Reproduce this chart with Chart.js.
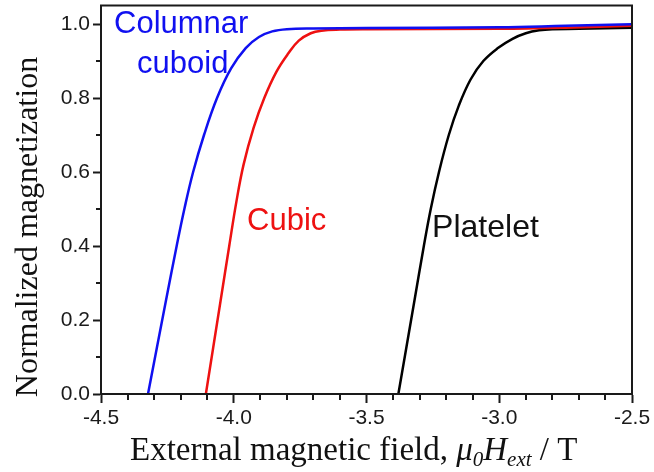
<!DOCTYPE html>
<html>
<head>
<meta charset="utf-8">
<script src="https://cdn.jsdelivr.net/npm/chart.js@4"></script>
<style>
  body { margin: 0; background: #fff; }
  #wrap { width: 654px; height: 472px; }
</style>
</head>
<body>
<div id="wrap"><canvas id="mag"></canvas></div>
<script>
// magnetization curves, field in tesla
const cuboidField = [-4.323, -4.256, -4.215, -4.186, -4.153, -4.112, -4.063, -4.010, -3.955, -3.905, -3.855, -3.800, -3.700, -3.500, -3.000, -2.750, -2.500];
const cuboidMag   = [0, 0.250, 0.400, 0.500, 0.600, 0.700, 0.800, 0.880, 0.935, 0.965, 0.980, 0.986, 0.988, 0.989, 0.991, 0.995, 0.999];

const cubicField = [-4.105, -4.050, -4.017, -3.990, -3.963, -3.925, -3.885, -3.840, -3.795, -3.755, -3.710, -3.670, -3.600, -3.500, -3.000, -2.750, -2.500];
const cubicMag   = [0, 0.250, 0.400, 0.520, 0.620, 0.720, 0.800, 0.870, 0.920, 0.955, 0.975, 0.982, 0.985, 0.986, 0.987, 0.990, 0.995];

const plateletField = [-3.380, -3.320, -3.284, -3.258, -3.227, -3.190, -3.152, -3.108, -3.060, -3.005, -2.950, -2.900, -2.850, -2.800, -2.700, -2.500];
const plateletMag   = [0, 0.250, 0.400, 0.500, 0.600, 0.700, 0.780, 0.850, 0.900, 0.935, 0.960, 0.975, 0.983, 0.986, 0.987, 0.990];

const xMinorTicks = [-4.4, -4.3, -4.2, -4.1, -3.9, -3.8, -3.7, -3.6, -3.4, -3.3, -3.2, -3.1, -2.9, -2.8, -2.7, -2.6];
const yMinorTicks = [0.1, 0.3, 0.5, 0.7, 0.9];

function toPoints(xs, ys) {
  let pts = [];
  for (let i = 0; i < xs.length; i++) pts.push({ x: xs[i], y: ys[i] });
  return pts;
}

// curve names, anchored in data coordinates
const curveLabels = [
  { text: "Columnar", x: -4.451, y: 0.976, color: "#1010f0", size: 31 },
  { text: "cuboid",   x: -4.364, y: 0.868, color: "#1010f0", size: 31 },
  { text: "Cubic",    x: -3.950, y: 0.443, color: "#ee1111", size: 31 },
  { text: "Platelet", x: -3.253, y: 0.424, color: "#111111", size: 32 }
];

const frameAndText = {
  id: "frameAndText",
  afterDatasetsDraw(chart) {
    const ctx = chart.ctx;
    const a = chart.chartArea;
    const xs = chart.scales.x, ys = chart.scales.y;
    ctx.save();

    // box around the plot
    ctx.strokeStyle = "#1a1a1a";
    ctx.lineWidth = 2;
    ctx.strokeRect(a.left, a.top, a.right - a.left, a.bottom - a.top);

    // minor ticks
    ctx.beginPath();
    xMinorTicks.forEach(v => {
      const px = Math.round(xs.getPixelForValue(v));
      ctx.moveTo(px, a.bottom);
      ctx.lineTo(px, a.bottom + 6);
    });
    yMinorTicks.forEach(v => {
      const py = Math.round(ys.getPixelForValue(v));
      ctx.moveTo(a.left, py);
      ctx.lineTo(a.left - 5, py);
    });
    ctx.stroke();

    // curve names
    ctx.textAlign = "left";
    ctx.textBaseline = "alphabetic";
    curveLabels.forEach(l => {
      ctx.font = l.size + "px 'Liberation Sans', Arial, sans-serif";
      ctx.fillStyle = l.color;
      ctx.fillText(l.text, xs.getPixelForValue(l.x), ys.getPixelForValue(l.y));
    });

    // y title
    ctx.fillStyle = "#111";
    ctx.font = "32px 'Liberation Serif', 'Times New Roman', serif";
    ctx.save();
    ctx.translate(37, 227);
    ctx.rotate(-Math.PI / 2);
    ctx.textAlign = "center";
    ctx.fillText("Normalized magnetization", 0, 0);
    ctx.restore();

    // x title with italic symbol and subscripts
    const parts = [
      { t: "External magnetic field, ", f: "33px", dy: 0 },
      { t: "μ", f: "italic 33px", dy: 0 },
      { t: "0", f: "italic 21px", dy: 6 },
      { t: "H", f: "italic 33px", dy: 0 },
      { t: "ext", f: "italic 21px", dy: 6 },
      { t: " / T", f: "33px", dy: 0 }
    ];
    let cx = 130;
    parts.forEach(p => {
      ctx.font = p.f + " 'Liberation Serif', 'Times New Roman', serif";
      ctx.fillText(p.t, cx, 460 + p.dy);
      cx += ctx.measureText(p.t).width;
    });

    ctx.restore();
  }
};

const lineStyle = { borderWidth: 2.5, pointRadius: 0, fill: false, tension: 0.4 };

new Chart(document.getElementById("mag"), {
  type: "line",
  data: {
    datasets: [
      Object.assign({ label: "Columnar cuboid", data: toPoints(cuboidField, cuboidMag), borderColor: "#1010f0" }, lineStyle),
      Object.assign({ label: "Cubic", data: toPoints(cubicField, cubicMag), borderColor: "#ee1111" }, lineStyle),
      Object.assign({ label: "Platelet", data: toPoints(plateletField, plateletMag), borderColor: "#000000" }, lineStyle)
    ]
  },
  options: {
    responsive: true,
    maintainAspectRatio: false,
    animation: false,
    layout: { padding: { top: 5.5, right: 22, left: 0, bottom: 0 } },
    plugins: { legend: { display: false }, tooltip: { enabled: false } },
    scales: {
      x: {
        type: "linear",
        min: -4.5,
        max: -2.5,
        grid: { drawOnChartArea: false, tickLength: 9, tickWidth: 2, tickColor: "#1a1a1a" },
        border: { color: "#1a1a1a", width: 2 },
        ticks: {
          stepSize: 0.5,
          padding: 3,
          color: "#1a1a1a",
          font: { family: "'Liberation Sans', Arial, sans-serif", size: 21 },
          maxRotation: 0,
          callback: v => v.toFixed(1)
        },
        afterFit(scale) {
          scale.height = 78;
          scale.paddingLeft = 0;
          scale.paddingRight = 0;
        }
      },
      y: {
        min: 0,
        max: 1.05,
        grid: { drawOnChartArea: false, tickLength: 8, tickWidth: 2, tickColor: "#1a1a1a" },
        border: { color: "#1a1a1a", width: 2 },
        ticks: {
          stepSize: 0.2,
          includeBounds: false,
          padding: 3,
          color: "#1a1a1a",
          font: { family: "'Liberation Sans', Arial, sans-serif", size: 21 },
          callback: v => v.toFixed(1)
        },
        afterFit(scale) {
          scale.width = 101;
          scale.paddingTop = 0;
          scale.paddingBottom = 0;
        }
      }
    }
  },
  plugins: [frameAndText]
});
</script>
</body>
</html>
